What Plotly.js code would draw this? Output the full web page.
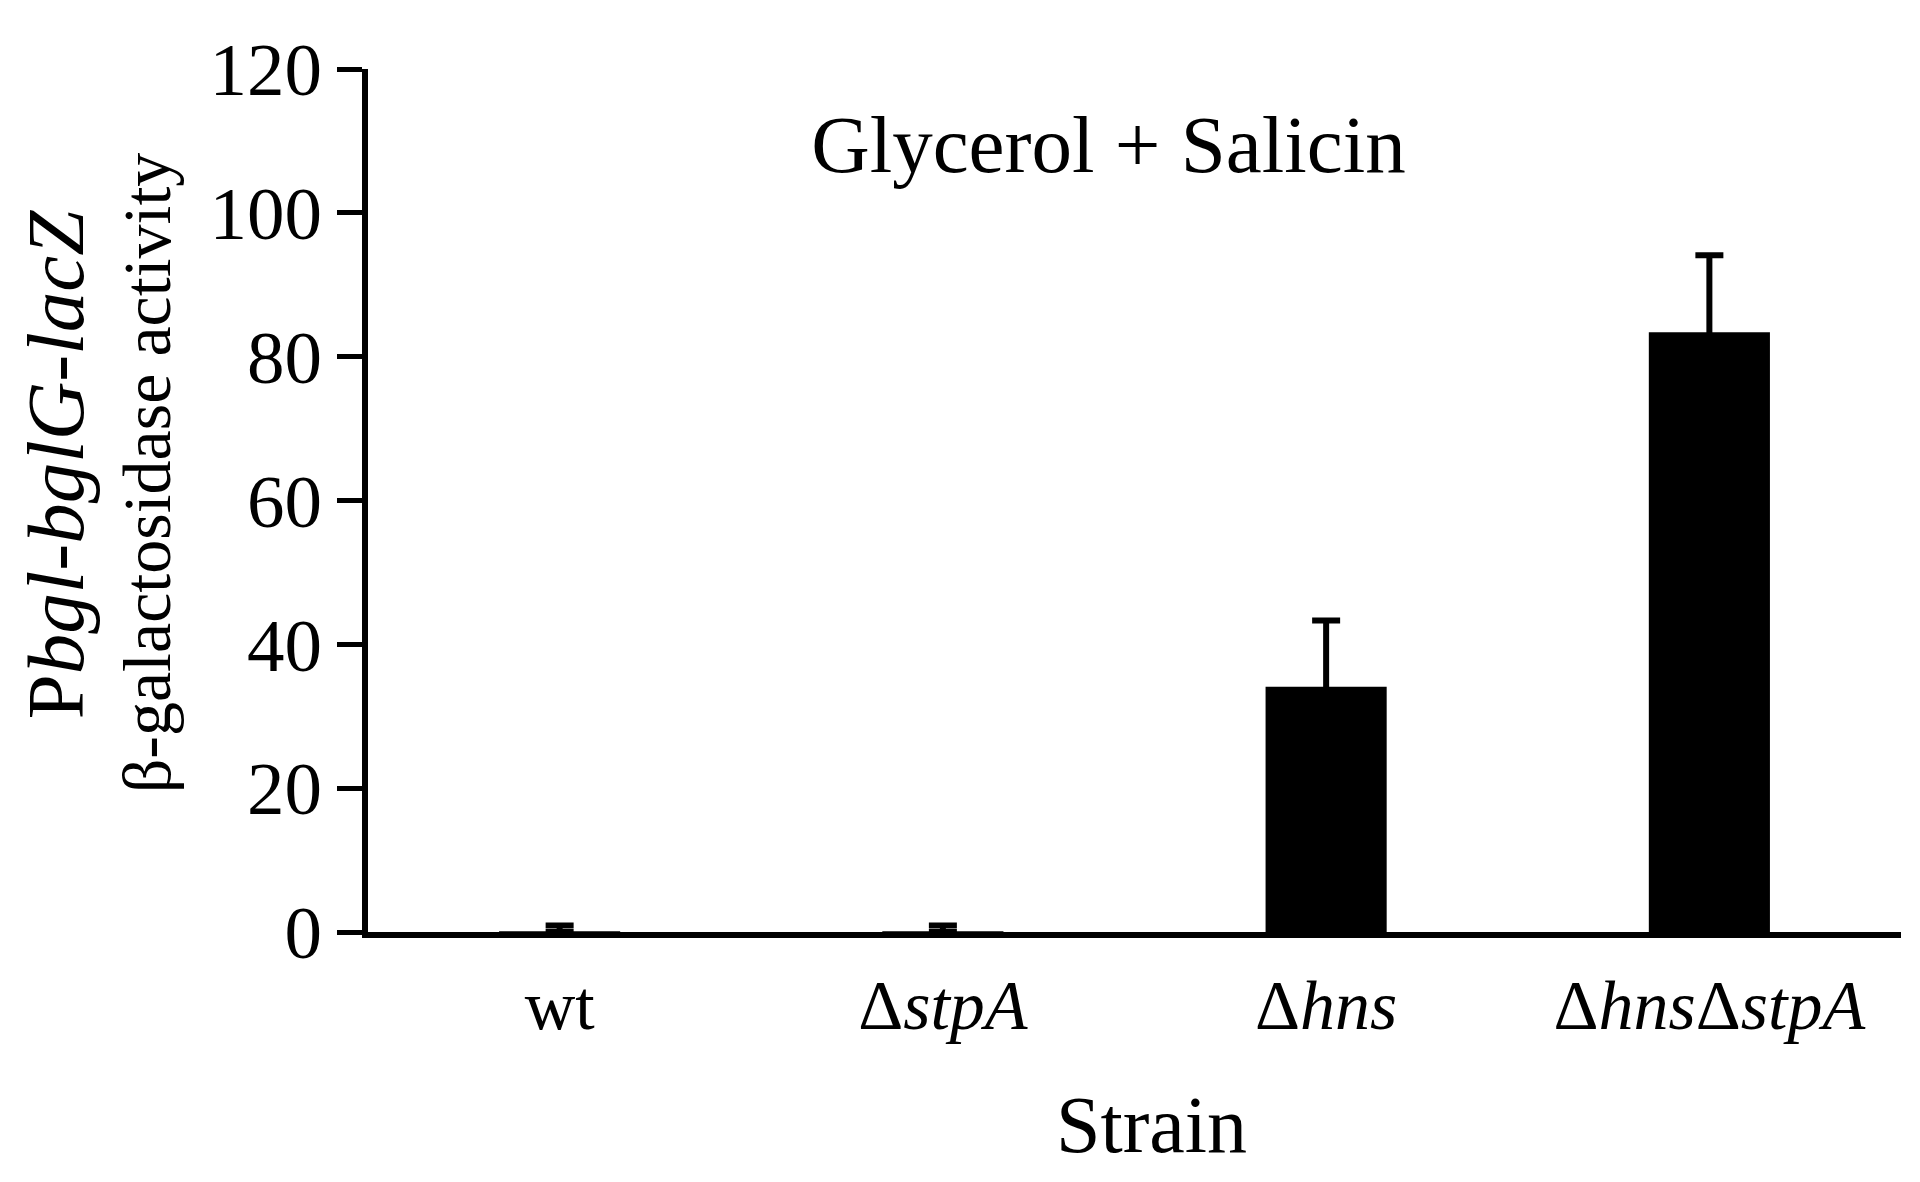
<!DOCTYPE html>
<html>
<head>
<meta charset="utf-8">
<script src="https://cdn.plot.ly/plotly-3.0.1.min.js"></script>
<style>
  html, body { margin: 0; padding: 0; background: #fff; }
  #plotDiv { width: 1920px; height: 1182px; }
</style>
</head>
<body>
<div id="plotDiv"></div>
<script>
// strains on the x axis
var strains = ["wt", "stpA", "hns", "hns stpA"];
var strainLabels = ["wt", "Δ<i>stpA</i>", "Δ<i>hns</i>", "Δ<i>hns</i>Δ<i>stpA</i>"];
// beta-galactosidase activity (mean) and upper error
var activity = [0.1, 0.1, 34.1, 83.4];
var activityErr = [0.8, 0.8, 9.2, 10.7];

var serif = "Liberation Serif, Times New Roman, serif";

var bars = {
    x: strains,
    y: activity,
    type: "bar",
    marker: {color: "#000", line: {width: 0}},
    error_y: {
        type: "data",
        symmetric: false,
        array: activityErr,
        arrayminus: activity,
        color: "#000",
        thickness: 6,
        width: 14
    },
    hoverinfo: "none"
};

var layout = {
    width: 1920,
    height: 1182,
    margin: {l: 368, r: 19, t: 69, b: 250},
    paper_bgcolor: "#fff",
    plot_bgcolor: "#fff",
    showlegend: false,
    bargap: 0.684,
    font: {family: serif, color: "#000", size: 72},
    title: {
        text: "Glycerol + Salicin",
        font: {family: serif, size: 81, color: "#000"},
        xref: "paper", yref: "paper",
        x: 0.483, y: 0.913,
        xanchor: "center", yanchor: "middle"
    },
    xaxis: {
        type: "category",
        range: [-0.5, 3.5],
        tickvals: strains,
        ticktext: strainLabels,
        ticks: "",
        showgrid: false,
        zeroline: false,
        showline: true,
        linecolor: "#000",
        linewidth: 6,
        ticklabelstandoff: 7,
        tickfont: {family: serif, size: 70, color: "#000"}
    },
    yaxis: {
        range: [0, 120],
        tickvals: [0, 20, 40, 60, 80, 100, 120],
        ticks: "outside",
        ticklen: 25,
        tickwidth: 5,
        tickcolor: "#000",
        showgrid: false,
        zeroline: false,
        showline: true,
        linecolor: "#000",
        linewidth: 6,
        ticklabelstandoff: 0,
        tickfont: {family: serif, size: 75, color: "#000"}
    },
    annotations: [
        {
            text: "P<i>bgl</i>-<i>bglG</i>-<i>lacZ</i>",
            xref: "paper", yref: "paper",
            x: -0.2035, y: 0.542,
            xanchor: "center", yanchor: "middle",
            textangle: -90,
            showarrow: false,
            font: {family: serif, size: 81, color: "#000"}
        },
        {
            text: "β-galactosidase activity",
            xref: "paper", yref: "paper",
            x: -0.1445, y: 0.532,
            xanchor: "center", yanchor: "middle",
            textangle: -90,
            showarrow: false,
            font: {family: serif, size: 68, color: "#000"}
        },
        {
            text: "Strain",
            xref: "paper", yref: "paper",
            x: 0.511, y: -0.224,
            xanchor: "center", yanchor: "middle",
            showarrow: false,
            font: {family: serif, size: 80, color: "#000"}
        }
    ]
};

Plotly.newPlot("plotDiv", [bars], layout, {staticPlot: true, displayModeBar: false});
</script>
</body>
</html>
